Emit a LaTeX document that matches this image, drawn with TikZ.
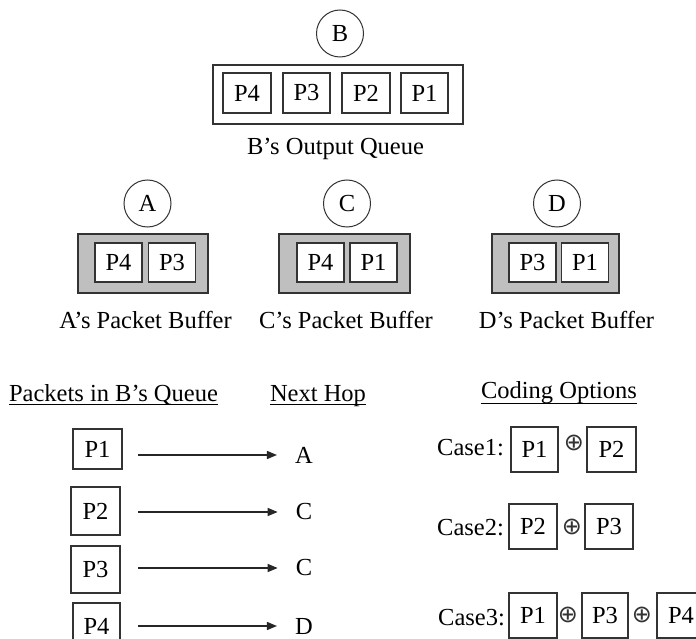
\documentclass[tikz,border=0pt]{standalone}
\usepackage{fontspec}
\setmainfont{Liberation Serif}
\newfontfamily\symfnt{DejaVu Sans}
\usetikzlibrary{arrows.meta}
\begin{document}
\begin{tikzpicture}[x=1pt,y=-1pt,
  every node/.style={font=\fontsize{24.5}{28}\selectfont, inner sep=0pt, text=black},
  pkt/.style={draw=black!80, line width=1.2pt, fill=white, minimum width=47pt, minimum height=40pt},
  frame/.style={draw=black!80, line width=1.2pt},
  buf/.style={draw=black!80, line width=1.2pt, fill=black!25, minimum height=59pt},
  nodec/.style={draw=black!80, line width=1pt, circle, minimum size=47pt},
  lbl/.style={anchor=base},
  oplus/.style={font=\symfnt\fontsize{24}{24}\selectfont, text=black!80},
  arr/.style={line width=1.4pt, draw=black!85, -{Triangle[length=10pt,width=8pt]}}
]
\useasboundingbox (0,0) rectangle (696,639);
\clip (0,0) rectangle (696,639);
\fill[white] (0,0) rectangle (696,639);

% B and its output queue
\node[nodec] (B) at (340,33.5) {B};
\node[frame, minimum width=250pt, minimum height=59pt] (bq) at (338,94.5) {};
\node[pkt, minimum width=48pt] (bq4) at (247,93) {P4};
\node[pkt] (bq3) at (306.5,93) {P3};
\node[pkt, minimum width=48pt] (bq2) at (366,93) {P2};
\node[pkt] (bq1) at (424.5,93) {P1};
\node[lbl] (bql) at (335.5,155) {B’s Output Queue};

% A, C, D buffers
\node[nodec] (A) at (147.5,203.5) {A};
\node[nodec] (C) at (347,203.5) {C};
\node[nodec] (D) at (557,203.5) {D};

\node[buf, minimum width=130pt] (ab) at (143,263.5) {};
\node[pkt, minimum height=39pt] (ab4) at (118.5,262.5) {P4};
\node[pkt, minimum height=39pt] (ab3) at (172,262.5) {P3};
\node[buf, minimum width=131pt] (cb) at (344.5,263.5) {};
\node[pkt, minimum height=39pt] (cb4) at (320.5,262.5) {P4};
\node[pkt, minimum height=39pt] (cb1) at (373.5,262.5) {P1};
\node[buf, minimum width=127pt] (db) at (555.5,263.5) {};
\node[pkt, minimum height=39pt] (db3) at (532.5,262.5) {P3};
\node[pkt, minimum height=39pt] (db1) at (585,262.5) {P1};

\node[lbl] (al) at (145.5,328) {A’s Packet Buffer};
\node[lbl] (cl) at (346,328) {C’s Packet Buffer};
\node[lbl] (dl) at (566.5,328) {D’s Packet Buffer};

% headers
\node[lbl] (h1) at (113.5,401) {Packets in B’s Queue};
\node[lbl] (h2) at (318,401) {Next Hop};
\node[lbl] (h3) at (559,398) {Coding Options};
\draw[line width=1pt] ([yshift=-3pt]h1.base west) -- ([yshift=-3pt]h1.base east);
\draw[line width=1pt] ([yshift=-3pt]h2.base west) -- ([yshift=-3pt]h2.base east);
\draw[line width=1pt] ([yshift=-5pt]h3.base west) -- ([yshift=-5pt]h3.base east);

% packets and next hops
\node[pkt, minimum width=49pt] (q1) at (97.5,449) {P1};
\node[pkt, minimum width=49pt, minimum height=48pt] (q2) at (95.5,511) {P2};
\node[pkt, minimum width=49pt, minimum height=47pt] (q3) at (95.5,569.5) {P3};
\node[pkt, minimum width=47pt, minimum height=46pt] (q4) at (96.5,626) {P4};

\node (n1) at (304,455) {A};
\node (n2) at (304,512) {C};
\node (n3) at (304,568) {C};
\node (n4) at (304,626) {D};

\draw[arr, shorten >=18pt] (138,455) coordinate (s1) -- (n1.west);
\draw[arr, shorten >=18pt] (138,512) coordinate (s2) -- (n2.west);
\draw[arr, shorten >=18pt] (138,568) coordinate (s3) -- (n3.west);
\draw[arr, shorten >=18pt] (138,626) coordinate (s4) -- (n4.west);

% coding options
\node[anchor=base west] (k1) at (437,455) {Case1:};
\node[pkt, minimum height=45pt] (k1a) at (534.5,449.5) {P1};
\node[oplus] (o1) at (574,443) {⊕};
\node[pkt, minimum width=49pt, minimum height=45pt] (k1b) at (611.5,449.5) {P2};

\node[anchor=base west] (k2) at (437,535) {Case2:};
\node[pkt, minimum width=48pt, minimum height=45pt] (k2a) at (533,526.5) {P2};
\node[oplus] (o2) at (572,527) {⊕};
\node[pkt, minimum width=48pt, minimum height=45pt] (k2b) at (609,526.5) {P3};

\node[anchor=base west] (k3) at (438,625) {Case3:};
\node[pkt, minimum width=48pt, minimum height=45pt] (k3a) at (533,615.5) {P1};
\node[oplus] (o3) at (568,615) {⊕};
\node[pkt, minimum width=46pt, minimum height=45pt] (k3b) at (605,615.5) {P3};
\node[oplus] (o4) at (642,615) {⊕};
\node[pkt, minimum width=48pt, minimum height=45pt] (k3c) at (681,615.5) {P4};
\end{tikzpicture}
\end{document}
